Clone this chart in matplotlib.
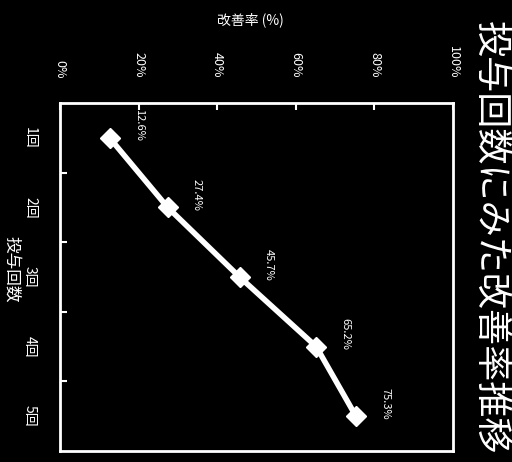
import matplotlib
matplotlib.use('Agg')
import matplotlib.pyplot as plt

plt.rcParams['font.family'] = ['Noto Sans CJK JP', 'DejaVu Sans']

title = '投与回数にみた改善率推移'
categories = ['1回', '2回', '3回', '4回', '5回']
values = [12.6, 27.4, 45.7, 65.2, 75.3]
value_ticks = [0, 20, 40, 60, 80, 100]
value_tick_labels = ['0%', '20%', '40%', '60%', '80%', '100%']
value_axis_label = '改善率 (%)'
category_axis_label = '投与回数'

fig = plt.figure(figsize=(5.12, 4.62), dpi=100, facecolor='black')
ax = fig.add_axes([60/512, 1-451/462, 393/512, 348/462])
ax.set_facecolor('black')

pos = list(range(len(categories)))
ax.plot(values, pos, color='white', lw=4, marker='D', ms=10,
        mfc='white', mec='white', solid_capstyle='round')
for v, p in zip(values, pos):
    ax.annotate(f'{v}%', (v, p), xytext=(21, 9), textcoords='offset points',
                rotation=-90, ha='center', va='center', fontsize=8, color='white')

ax.set_xlim(0, 100)
ax.set_ylim(len(categories) - 0.5, -0.5)

ax.xaxis.tick_top()
ax.set_xticks(value_ticks)
ax.set_xticklabels(value_tick_labels, rotation=-90, fontsize=9, color='white')
ax.tick_params(axis='x', direction='in', length=5, width=1.5, color='white', pad=18)

ax.set_yticks(pos)
ax.set_yticklabels(categories, rotation=-90, fontsize=10, color='white', va='center')
ax.tick_params(axis='y', which='major', length=0, pad=16.5)
ax.set_yticks([p + 0.5 for p in pos[:-1]], minor=True)
ax.tick_params(axis='y', which='minor', direction='in', length=5, width=1.5, color='white')

for s in ax.spines.values():
    s.set_color('white')
    s.set_linewidth(2)

fig.text(250/512, 1-20/462, value_axis_label, ha='center', va='center',
         fontsize=10, color='white')
fig.text(11/512, 1-269/462, category_axis_label, rotation=-90, ha='center', va='center',
         fontsize=12, color='white')
fig.text(490/512, 1-238/462, title, rotation=-90, ha='center', va='center',
         fontsize=26, color='white')

fig.savefig('out.png', dpi=100, facecolor='black')
